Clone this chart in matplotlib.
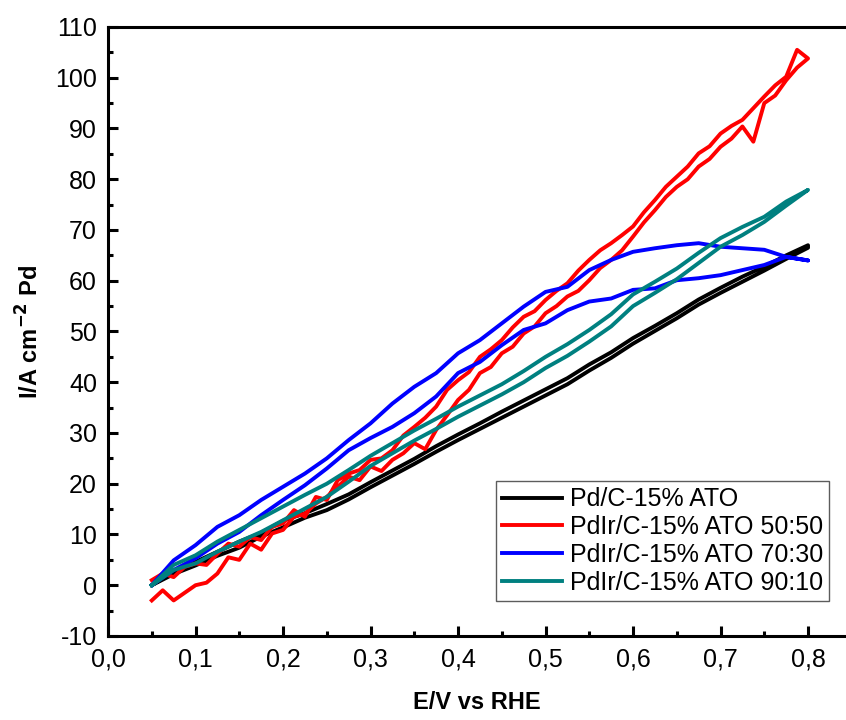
import numpy as np
import matplotlib
matplotlib.use('Agg')
import matplotlib.pyplot as plt
from matplotlib.ticker import FuncFormatter, MultipleLocator

plt.rcParams['font.family'] = ['Liberation Sans', 'DejaVu Sans']
plt.rcParams['axes.unicode_minus'] = False

# potential grid (V vs RHE) for the smoother curves
E = [0.05, 0.075, 0.1, 0.125, 0.15, 0.175, 0.2, 0.225, 0.25, 0.275, 0.3,
     0.325, 0.35, 0.375, 0.4, 0.425, 0.45, 0.475, 0.5, 0.525, 0.55,
     0.575, 0.6, 0.625, 0.65, 0.675, 0.7, 0.725, 0.75, 0.775, 0.8]

# Pd/C-15% ATO
pd_fwd = [0, 2.2, 3.9, 5.8, 7.4, 9.6, 11.4, 13.3, 14.8, 16.9, 19.3,
          21.6, 23.9, 26.3, 28.6, 30.8, 33.0, 35.2, 37.4, 39.6, 42.3,
          44.8, 47.6, 50.1, 52.6, 55.3, 57.6, 59.8, 62.0, 64.3, 66.5]
pd_bwd = [0, 2.8, 4.6, 6.6, 8.6, 10.3, 12.7, 14.2, 16.0, 17.9, 20.3,
          22.6, 24.9, 27.4, 29.7, 31.9, 34.2, 36.4, 38.6, 40.8, 43.5,
          45.9, 48.7, 51.1, 53.6, 56.3, 58.6, 60.8, 62.8, 65.0, 67.0]

# PdIr 70:30
b_fwd = [0, 3.0, 5.3, 8.2, 10.5, 13.8, 16.8, 19.7, 23.0, 26.6, 29.0,
         31.2, 33.9, 37.2, 41.8, 44.0, 47.3, 50.3, 51.6, 54.2, 55.9,
         56.5, 58.2, 58.5, 60.1, 60.5, 61.1, 62.1, 63.1, 64.7, 64.0]
b_bwd = [0, 4.9, 7.9, 11.5, 13.8, 16.8, 19.4, 22.0, 25.0, 28.6, 31.9,
         35.8, 39.1, 41.8, 45.7, 48.3, 51.6, 54.9, 57.8, 58.8, 62.1,
         64.1, 65.7, 66.4, 67.0, 67.4, 66.7, 66.4, 66.1, 64.7, 64.0]

# PdIr 90:10
t_fwd = [0, 3.0, 4.3, 6.6, 8.6, 10.5, 12.8, 15.1, 17.4, 20.4, 23.5,
         26.0, 28.5, 30.8, 33.2, 35.4, 37.6, 40.0, 42.8, 45.2, 48.0,
         51.0, 55.0, 57.6, 60.3, 63.5, 66.7, 69.0, 71.6, 74.8, 77.9]
t_bwd = [0, 4.0, 5.9, 8.6, 10.9, 13.2, 15.5, 17.8, 20.0, 22.7, 25.5,
         28.0, 30.5, 32.8, 35.2, 37.4, 39.6, 42.2, 45.0, 47.5, 50.3,
         53.4, 57.3, 59.8, 62.4, 65.5, 68.4, 70.6, 72.6, 75.6, 77.9]

# PdIr 50:50 (noisier, finer grid)
E_red = [0.05, 0.0625, 0.075, 0.0875, 0.1, 0.1125, 0.125, 0.1375, 0.15, 0.1625,
         0.175, 0.1875, 0.2, 0.2125, 0.225, 0.2375, 0.25, 0.2625, 0.275, 0.2875,
         0.3, 0.3125, 0.325, 0.3375, 0.35, 0.3625, 0.375, 0.3875, 0.4, 0.4125,
         0.425, 0.4375, 0.45, 0.4625, 0.475, 0.4875, 0.5, 0.5125, 0.525, 0.5375,
         0.55, 0.5625, 0.575, 0.5875, 0.6, 0.6125, 0.625, 0.6375, 0.65, 0.6625,
         0.675, 0.6875, 0.7, 0.7125, 0.725, 0.7375, 0.75, 0.7625, 0.775, 0.7875, 0.8]
r_fwd = [-3.0, -1.0, -3.0, -1.5, 0.0, 0.5, 2.3, 5.5, 5.0, 8.2,
         7.0, 10.2, 10.9, 13.5, 14.1, 16.1, 17.4, 19.4, 21.4, 20.7,
         23.4, 22.5, 24.7, 26.0, 28.0, 26.8, 30.6, 33.5, 36.5, 38.5,
         41.8, 43.0, 45.7, 47.0, 49.6, 51.0, 53.6, 55.0, 56.9, 58.0,
         60.1, 62.5, 64.1, 66.0, 68.7, 71.5, 73.9, 76.5, 78.5, 80.0,
         82.5, 84.0, 86.4, 88.0, 90.4, 87.4, 95.0, 96.5, 99.5, 102.0, 103.8]
r_bwd = [1.0, 2.3, 1.6, 3.6, 4.3, 4.0, 6.2, 8.2, 7.6, 9.5,
         8.9, 11.5, 12.2, 14.8, 13.5, 17.4, 16.8, 20.7, 22.0, 22.7,
         24.7, 25.0, 26.6, 29.5, 31.2, 33.0, 35.2, 38.5, 40.4, 42.0,
         45.0, 46.5, 48.3, 50.8, 52.9, 54.0, 56.2, 58.0, 59.5, 62.0,
         64.1, 66.0, 67.4, 69.0, 70.7, 73.5, 75.9, 78.5, 80.5, 82.5,
         85.1, 86.5, 89.0, 90.5, 91.7, 94.0, 96.3, 98.5, 100.2, 105.5, 103.8]

series = [
    ('Pd/C-15% ATO', E, pd_fwd, pd_bwd, '#000000'),
    ('PdIr/C-15% ATO 50:50', E_red, r_fwd, r_bwd, '#FF0000'),
    ('PdIr/C-15% ATO 70:30', E, b_fwd, b_bwd, '#0000FF'),
    ('PdIr/C-15% ATO 90:10', E, t_fwd, t_bwd, '#008080'),
]

fig = plt.figure(figsize=(8.46, 7.2), dpi=100)
ax = fig.add_axes([0.1277, 0.1167, 0.8723, 0.8458])

for label, x, fwd, bwd, c in series:
    xx = list(x) + list(x)[::-1]
    yy = list(fwd) + list(bwd)[::-1]
    ax.plot(xx, yy, color=c, lw=2.8, label=label)

ax.set_xlim(0, 0.8434)
ax.set_ylim(-10, 110)
ax.xaxis.set_major_locator(MultipleLocator(0.1))
ax.xaxis.set_minor_locator(MultipleLocator(0.05))
ax.yaxis.set_major_locator(MultipleLocator(10))
ax.yaxis.set_minor_locator(MultipleLocator(5))
ax.xaxis.set_major_formatter(FuncFormatter(lambda v, p: f'{v:.1f}'.replace('.', ',')))

ax.spines['right'].set_visible(False)
for s in ['left', 'top', 'bottom']:
    ax.spines[s].set_linewidth(2.2)
ax.tick_params(which='major', direction='in', length=7, width=2.2,
               labelsize=18, pad=8, right=False, top=False)
ax.tick_params(which='minor', direction='in', length=3.6, width=2.2,
               right=False, top=False)

ax.set_xlabel('E/V vs RHE', fontsize=17, fontweight='bold', labelpad=14)
ax.set_ylabel('I/A cm$^{\\mathbf{-2}}$ Pd', fontsize=17, fontweight='bold', labelpad=8)

leg = ax.legend(loc='lower right', bbox_to_anchor=(0.977, 0.0575), fontsize=18,
                frameon=True, fancybox=False, edgecolor='#333333', borderaxespad=0,
                handlelength=2.4, handletextpad=0.3, labelspacing=0.15, borderpad=0.25)
leg.get_frame().set_linewidth(1.0)

fig.savefig('out.png', dpi=100)
